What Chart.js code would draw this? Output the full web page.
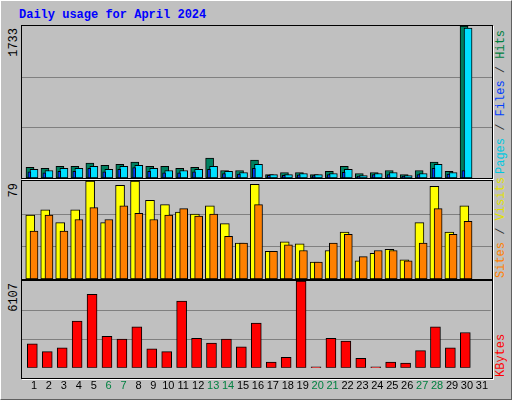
<!DOCTYPE html>
<html>
<head>
<meta charset="utf-8">
<script src="https://cdn.jsdelivr.net/npm/chart.js@4"></script>
<style>
  body { margin: 0; background: #fff; }
  #frame { position: relative; width: 510px; height: 398px; background: #c0c0c0;
    border-top: 1px solid #fff; border-left: 1px solid #fff;
    border-right: 1px solid #606060; border-bottom: 1px solid #606060; }
  .panel { position: absolute; left: 20px; width: 470px; border: 1px solid #000;
    box-shadow: 1px 1px 0 #fff; }
  canvas { position: absolute; }
  .txt { position: absolute; font-family: "Liberation Mono", monospace; font-size: 12px;
    writing-mode: vertical-rl; transform: rotate(180deg); white-space: nowrap; line-height: 12px; }
  #title { position: absolute; left: 18px; top: 7px; font: bold 12px "Liberation Mono", monospace; color: #0000ff; }
</style>
</head>
<body>
<div id="frame">
  <div id="title">Daily usage for April 2024</div>
  <div class="panel" style="top:24px;height:152px"></div>
  <div class="panel" style="top:179px;height:98px"></div>
  <div class="panel" style="top:279px;height:97px"></div>
  <canvas id="c1" style="left:21px;top:25px"></canvas>
  <canvas id="c2" style="left:21px;top:180px"></canvas>
  <canvas id="c3" style="left:21px;top:280px"></canvas>
  <div class="txt" style="left:7px;top:27px">1733</div>
  <div class="txt" style="left:7px;top:182px">79</div>
  <div class="txt" style="left:7px;top:282px">6107</div>
  <div class="txt" style="left:494px;top:27px;height:146px"><span style="color:#00c8e0">Pages</span><span style="color:#303030"> / </span><span style="color:#0040ff">Files</span><span style="color:#303030"> / </span><span style="color:#008040">Hits</span></div>
  <div class="txt" style="left:494px;top:195px;height:82px"><span style="color:#ff8000">Sites</span><span style="color:#303030"> / </span><span style="color:#e0e000">Visits</span></div>
  <div class="txt" style="left:494px;top:330px;height:46px"><span style="color:#ff0000">KBytes</span></div>
</div>
<script>
const days = Array.from({ length: 31 }, (_, i) => i + 1);
const weekends = [6, 7, 13, 14, 20, 21, 27, 28];

const hits = [122, 110, 134, 134, 169, 145, 157, 181, 134, 134, 110, 122, 228, 86, 86, 204, 39, 63, 63, 39, 75, 134, 51, 63, 86, 39, 86, 181, 75, 1733, 0];
const files = [98, 86, 110, 110, 134, 98, 134, 145, 110, 86, 86, 98, 134, 75, 63, 157, 39, 39, 51, 39, 51, 98, 28, 51, 63, 28, 51, 157, 63, 1709, 0];
const pages = [70, 60, 75, 75, 110, 70, 100, 120, 75, 60, 60, 70, 100, 50, 45, 110, 30, 30, 35, 28, 40, 65, 20, 38, 40, 20, 38, 110, 45, 86, 0];
const visits = [51.5, 55.8, 45.5, 55.8, 79, 45.5, 75.6, 79, 63.5, 60, 54, 52.4, 59, 44.6, 29, 76.4, 22.3, 30, 28.3, 13.7, 23, 37.8, 14.6, 20.6, 24, 15.5, 45.5, 74.7, 37.8, 59, 0];
const sites = [38.6, 51.5, 38.6, 48, 57.5, 48, 59, 53, 48, 51.5, 56.7, 50.7, 52.4, 34.3, 29, 60, 22.3, 27.5, 23, 13.7, 29, 36, 18, 23, 23, 14.6, 29, 56.7, 36, 46.4, 0];
const kbytes = [1678, 1141, 1409, 3288, 5168, 2215, 2013, 2886, 1342, 1141, 4698, 2080, 1745, 2013, 1476, 3154, 403, 738, 6107, 67, 2080, 1879, 671, 67, 403, 336, 1208, 2886, 1409, 2483, 0];

const xMin = 0.198, xMax = 31.6;

function pts(arr, dx) {
    return arr.map((v, i) => ({ x: days[i] + dx, y: v }));
}

const gridPlugin = {
    id: "thirds",
    beforeDatasetsDraw(chart) {
        const y = chart.scales.y;
        const ctx = chart.ctx;
        ctx.save();
        ctx.strokeStyle = "#808080";
        ctx.lineWidth = 1;
        [1, 2].forEach(k => {
            const py = Math.round(y.getPixelForValue(y.max * k / 3)) + 0.5;
            ctx.beginPath();
            ctx.moveTo(chart.chartArea.left, py);
            ctx.lineTo(chart.chartArea.right, py);
            ctx.stroke();
        });
        ctx.restore();
    }
};

function makeChart(id, w, h, max, datasets, showX) {
    const el = document.getElementById(id);
    el.width = w; el.height = h;
    el.style.width = w + "px"; el.style.height = h + "px";
    return new Chart(el, {
        type: "bar",
        data: { datasets },
        plugins: [gridPlugin],
        options: {
            responsive: false,
            animation: false,
            devicePixelRatio: 1,
            layout: { padding: 0 },
            plugins: { legend: { display: false }, tooltip: { enabled: false } },
            datasets: { bar: { grouped: false, borderColor: "#000", borderWidth: 1, borderSkipped: false } },
            scales: {
                x: {
                    type: "linear", min: xMin, max: xMax, display: showX, offset: false,
                    grid: { display: false }, border: { display: false },
                    afterBuildTicks: s => { s.ticks = days.map(d => ({ value: d })); },
                    ticks: {
                        autoSkip: false, maxRotation: 0, padding: 4,
                        font: { family: "Liberation Sans", size: 11 },
                        color: c => weekends.includes(c.tick.value) ? "#008040" : "#000"
                    }
                },
                y: { display: false, min: 0, max }
            }
        }
    });
}

makeChart("c1", 470, 152, 1733, [
    { data: pts(pages, -0.31), backgroundColor: "#0040ff", barThickness: 3 },
    { data: pts(files, 0), backgroundColor: "#00e0ff", barThickness: 8 },
    { data: pts(hits, -0.267), backgroundColor: "#008060", barThickness: 8 }
], false);

makeChart("c2", 470, 98, 79, [
    { data: pts(sites, 0), backgroundColor: "#ff8000", barThickness: 8 },
    { data: pts(visits, -0.25), backgroundColor: "#ffff00", barThickness: 9 }
], false);

makeChart("c3", 470, 116, 6107, [
    { data: pts(kbytes, -0.11), backgroundColor: "#ff0000", barThickness: 10 }
], true);
</script>
</body>
</html>
